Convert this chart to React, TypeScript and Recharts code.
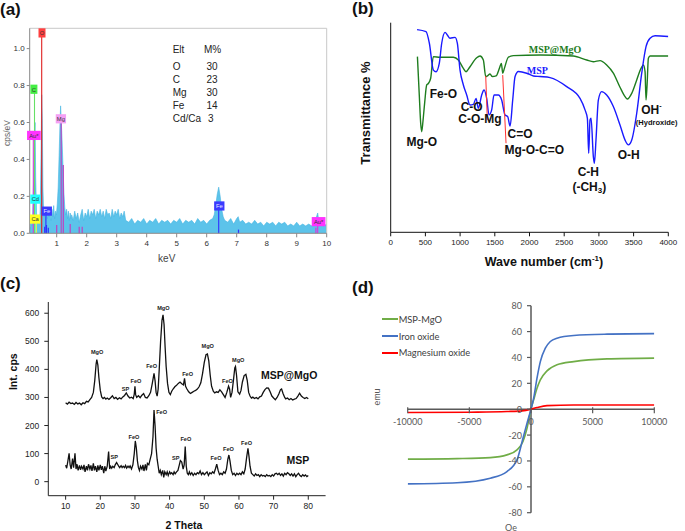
import React from 'react';
import {
  AreaChart, Area, ComposedChart, Line, XAxis, YAxis, ReferenceLine, ReferenceDot,
} from 'recharts';

const SANS = '"Liberation Sans", Arial, Helvetica, sans-serif';
const SERIF = '"Liberation Serif", "Times New Roman", serif';
const CAL = 'Lato, "Open Sans", sans-serif';

/* ---------------- (a) EDS spectrum ---------------- */
const edsSpectrum: [number, number][] = [
  [0.1,0.02],[0.14,0.06],[0.17,0.04],[0.2,0.1],[0.23,0.28],[0.26,0.55],[0.28,0.6],[0.3,0.3],[0.33,0.1],[0.36,0.07],[0.39,0.09],[0.42,0.06],[0.45,0.12],[0.48,0.45],[0.5,0.75],[0.52,0.62],[0.54,0.25],[0.57,0.09],[0.6,0.12],[0.63,0.07],[0.66,0.13],[0.69,0.08],[0.72,0.14],[0.75,0.09],[0.78,0.12],[0.81,0.07],[0.84,0.13],[0.87,0.09],[0.9,0.15],[0.93,0.08],[0.96,0.12],[0.99,0.1],[1.02,0.16],[1.05,0.25],[1.08,0.42],[1.11,0.6],[1.13,0.69],[1.15,0.62],[1.18,0.5],[1.21,0.36],[1.24,0.22],[1.27,0.14],[1.3,0.1],[1.33,0.13],[1.36,0.08],[1.39,0.12],[1.42,0.07],[1.45,0.11],[1.48,0.08],
  [1.5,0.1],[1.55,0.07],[1.6,0.12],[1.65,0.08],[1.7,0.11],[1.75,0.06],[1.8,0.1],[1.85,0.13],[1.9,0.07],[1.95,0.11],[2.0,0.09],[2.05,0.13],[2.1,0.08],[2.15,0.12],[2.2,0.1],[2.25,0.13],[2.3,0.08],[2.35,0.12],[2.4,0.1],[2.45,0.13],[2.5,0.09],[2.55,0.12],[2.6,0.08],[2.65,0.13],[2.7,0.1],[2.75,0.11],[2.8,0.08],[2.85,0.13],[2.9,0.09],[2.95,0.12],[3.0,0.1],[3.05,0.13],[3.1,0.08],[3.15,0.11],[3.2,0.09],[3.25,0.12],[3.3,0.07],
  [3.4,0.06],[3.5,0.08],[3.6,0.05],[3.7,0.07],[3.8,0.06],[3.9,0.08],[4.0,0.05],[4.1,0.07],[4.2,0.06],[4.3,0.08],[4.4,0.05],[4.5,0.07],[4.6,0.06],[4.7,0.07],[4.8,0.05],[4.9,0.07],[5.0,0.06],[5.1,0.08],[5.2,0.05],[5.3,0.07],[5.4,0.06],[5.5,0.07],[5.6,0.05],[5.7,0.08],[5.8,0.06],[5.9,0.07],[6.0,0.05],[6.1,0.07],[6.2,0.08],[6.25,0.1],[6.3,0.15],[6.35,0.21],[6.4,0.25],[6.45,0.2],[6.5,0.13],[6.55,0.09],[6.6,0.07],[6.7,0.06],[6.8,0.08],[6.9,0.05],[7.0,0.08],[7.05,0.09],[7.1,0.06],[7.2,0.07],[7.3,0.05],[7.4,0.06],[7.5,0.05],[7.6,0.07],[7.7,0.05],[7.8,0.06],[7.9,0.04],[8.0,0.06],[8.1,0.05],[8.2,0.06],[8.3,0.04],[8.4,0.06],[8.5,0.05],[8.6,0.06],[8.7,0.04],[8.8,0.05],[8.9,0.04],[9.0,0.06],[9.1,0.04],[9.2,0.05],[9.3,0.04],[9.4,0.05],[9.5,0.04],[9.6,0.06],[9.7,0.11],[9.75,0.05],[9.8,0.05],[9.9,0.04],[10.0,0.05],
];
const edsXTicks = [1, 2, 3, 4, 5, 6, 7, 8, 9, 10];
const edsXMinor = [0.2,0.4,0.6,0.8,1.2,1.4,1.6,1.8,2.2,2.4,2.6,2.8,3.2,3.4,3.6,3.8,4.2,4.4,4.6,4.8,5.2,5.4,5.6,5.8,6.2,6.4,6.6,6.8,7.2,7.4,7.6,7.8,8.2,8.4,8.6,8.8,9.2,9.4,9.6,9.8];
const edsYTicks = [0, 0.2, 0.4, 0.6, 0.8, 1.0];
const edsYMinor = [0.05,0.1,0.15,0.25,0.3,0.35,0.45,0.5,0.55,0.65,0.7,0.75,0.85,0.9,0.95,1.05];
const edsMarkers = [
  { el: 'Au*', x: 0.22, lx: 0.24, h: 0.53, line: '#dd33dd', box: '#ff33ff' },
  { el: 'C', x: 0.26, lx: 0.24, h: 0.78, line: '#66e066', box: '#44ee44' },
  { el: 'Cd', x: 0.3, lx: 0.29, h: 0.185, line: '#55eeee', box: '#22ffff' },
  { el: 'Ca', x: 0.32, lx: 0.28, h: 0.077, line: '#eeee44', box: '#ffff22' },
  { el: 'O', x: 0.5, lx: 0.51, h: 1.085, line: '#e02020', box: '#ff4040' },
  { el: 'Fe', x: 0.64, lx: 0.67, h: 0.12, line: '#3030ff', box: '#3a3aff' },
  { el: 'Mg', x: 1.15, lx: 1.14, h: 0.62, line: '#c040c0', box: '#f4a0f4' },
  { el: 'Fe', x: 6.4, lx: 6.42, h: 0.148, line: '#3030ff', box: '#3a3aff' },
  { el: 'Au*', x: 9.7, lx: 9.73, h: 0.063, line: '#dd33dd', box: '#ff33ff' },
];
const edsMinorLines: [number, number, string][] = [
  [0.6,0.035,'#3030ff'],[0.66,0.045,'#3030ff'],[0.72,0.03,'#3030ff'],[1.0,0.045,'#c040c0'],[1.22,0.37,'#c040c0'],[1.45,0.05,'#c040c0'],[1.75,0.035,'#c040c0'],[1.85,0.035,'#c040c0'],[7.06,0.02,'#3030ff'],[9.64,0.03,'#dd33dd'],
];
const eltNames = ['O', 'C', 'Mg', 'Fe', 'Cd/Ca'];
const eltPct = [30, 23, 30, 14, 3];

/* ---------------- (b) FTIR ---------------- */
const ftirMSP: [number, number][] = [
  [380,96.7],[509,95.7],[557,90.2],[615,77.4],[653,76.6],[700,80.6],[735,90.2],[783,95.4],[816,94.1],[855,92.6],[927,93],[960,90.2],[999,77.4],[1047,70.3],[1095,65.5],[1143,60.7],[1191,61],[1230,63.9],[1263,59.2],[1311,65.5],[1345,67.9],[1383,63.9],[1417,56],[1455,58.4],[1489,65.5],[1551,65.5],[1599,63.1],[1647,56],[1686,55.2],[1720,50.7],[1758,63.1],[1792,74.3],[1840,76.7],[1960,75.9],[2056,74.6],[2152,74.3],[2296,73.8],[2536,69.5],[2728,63.9],[2800,58.4],[2834,54.4],[2853,37.7],[2872,53.6],[2887,54.4],[2920,36.1],[2935,32.9],[2958,44],[2992,63.1],[3040,67.1],[3112,65.5],[3208,60],[3304,51.2],[3377,44],[3425,41.7],[3473,44],[3545,56.8],[3617,75.9],[3679,88.6],[3737,92.6],[3809,93.8],[4000,93.4],
];
const ftirMgO: [number, number][] = [
  [385,83.8],[413,64.7],[432,52],[447,48],[465,53],[490,62],[519,70.3],[542,71],[576,73.5],[614,83.8],[711,83.5],[783,83.5],[903,83.5],[975,82.2],[1047,78.2],[1085,76.6],[1143,79],[1239,83.3],[1287,84.1],[1335,82.2],[1369,74.3],[1393,74.6],[1431,75.5],[1465,74.3],[1518,74.6],[1566,78.2],[1595,80.6],[1614,75.9],[1638,78.2],[1695,83.5],[1767,84.3],[2152,84.6],[2632,84.1],[2824,82.2],[2920,81.4],[3016,81.9],[3112,79.8],[3208,75.9],[3304,69.2],[3377,64.7],[3410,63.6],[3473,66.3],[3545,72.7],[3607,78.2],[3641,79.8],[3665,76.7],[3679,63.1],[3693,69.5],[3713,83],[3737,84.1],[4000,84.1],
];
const ftirXTicks = [0, 500, 1000, 1500, 2000, 2500, 3000, 3500, 4000];
const ftirXMinor = [250, 750, 1250, 1750, 2250, 2750, 3250, 3750];
const ftirYTicks = [0, 10, 20, 30, 40, 50, 60, 70, 80, 90, 100];
const ftirYMinor = [5, 15, 25, 35, 45, 55, 65, 75, 85, 95];
const ftirRedLines: [number, number, number, number][] = [
  [1369, 74.6, 1393, 53.6],
  [1614, 75, 1662, 42.5],
];
const ftirLabels = [
  { t: 'Mg-O', x: 447, y: 43.2 },
  { t: 'Fe-O', x: 758, y: 65.8 },
  { t: 'C-O', x: 1167, y: 59.9 },
  { t: 'C-O-Mg', x: 1287, y: 53.9 },
  { t: 'C=O', x: 1863, y: 46.9 },
  { t: 'Mg-O-C=O', x: 2069, y: 39.3 },
  { t: 'C-H', x: 2848, y: 28.9 },
  { t: 'O-H', x: 3430, y: 36.9 },
];

/* ---------------- (c) XRD ---------------- */
const xrdMgO: [number, number][] = [
  [10,281],[10.5,276],[11,283],[11.5,278],[12,280],[12.5,275],[13,282],[13.5,277],[14,280],[14.5,274],[15,281],[15.5,278],[16,286],[16.5,284],[17,292],[17.5,300],[18,318],[18.4,360],[18.8,420],[19.0,435],[19.3,415],[19.6,370],[20.0,325],[20.4,302],[20.8,296],[21.2,300],[21.6,294],[22,298],[22.5,293],[23,299],[23.5,306],[24,296],[24.5,300],[25,293],[25.5,299],[26,295],[26.5,302],[27,307],[27.5,316],[28,305],[28.5,298],[29,301],[29.5,296],[29.8,312],[30.0,340],[30.2,310],[30.5,300],[31,306],[31.5,299],[32,308],[32.5,314],[33,300],[33.5,298],[34,306],[34.5,318],[35.0,350],[35.5,386],[35.8,360],[36.1,318],[36.4,305],[36.7,330],[37.0,400],[37.4,500],[37.8,575],[38.1,594],[38.4,560],[38.7,480],[39.0,410],[39.4,350],[39.8,318],[40.2,310],[40.6,322],[41,330],[41.5,338],[42,343],[42.5,350],[43,355],[43.5,349],[44,345],[44.3,368],[44.6,340],[45,330],[45.5,320],[46,314],[46.5,318],[47,322],[47.5,325],[48,330],[48.5,338],[49,352],[49.5,385],[50,425],[50.5,452],[50.9,455],[51.3,430],[51.7,380],[52.1,340],[52.6,322],[53,316],[53.5,320],[54,318],[54.5,327],[55,320],[55.5,310],[56,300],[56.5,318],[57.0,340],[57.3,330],[57.6,300],[58,318],[58.4,360],[58.8,405],[59.0,410],[59.3,380],[59.7,320],[60.2,312],[60.6,325],[61.0,355],[61.5,378],[62.0,382],[62.4,360],[62.8,318],[63.2,305],[63.6,298],[64,301],[64.5,296],[65,300],[65.5,295],[66,302],[66.5,305],[67,318],[67.5,328],[68,334],[68.5,333],[69,320],[69.5,305],[70,298],[70.5,292],[71,300],[71.5,312],[72,328],[72.3,330],[72.7,315],[73.2,300],[73.5,295],[74,298],[74.5,292],[75,296],[75.5,291],[76,294],[76.5,296],[77,305],[77.5,315],[78,305],[78.5,300],[79,296],[79.5,300],[80,295],
];
const xrdMSP: [number, number][] = [
  [10,59],[10.3,48],[10.6,70],[11.0,101],[11.3,60],[11.6,45],[12.0,82],[12.3,50],[12.7,101],[13.0,45],[13.3,62],[13.6,40],[14,58],[14.3,42],[14.6,55],[15,45],[15.3,60],[15.6,35],[16,55],[16.3,40],[16.6,62],[17,45],[17.3,58],[17.6,38],[18,65],[18.3,40],[18.6,55],[19,35],[19.3,58],[19.6,40],[20,60],[20.3,42],[20.6,55],[21,30],[21.3,55],[21.6,38],[22,55],[22.4,107],[22.7,45],[23,55],[23.3,48],[23.6,55],[24,50],[24.3,60],[24.7,68],[25,62],[25.3,55],[25.6,50],[26,57],[26.3,50],[26.6,55],[27,50],[27.3,58],[27.6,48],[28,55],[28.3,50],[28.6,56],[29,45],[29.4,60],[29.8,100],[30.1,145],[30.4,120],[30.7,75],[31,50],[31.3,40],[31.6,55],[32,45],[32.3,60],[32.6,38],[33,62],[33.3,40],[33.6,65],[34,60],[34.4,80],[34.8,100],[35.2,160],[35.5,255],[35.8,200],[36.1,120],[36.4,80],[36.7,55],[37,30],[37.3,40],[37.6,25],[38,40],[38.3,15],[38.6,35],[39,25],[39.3,35],[39.6,22],[40,35],[40.3,28],[40.6,32],[41,25],[41.3,35],[41.6,28],[42,35],[42.4,40],[42.8,60],[43.1,75],[43.5,70],[43.9,45],[44.2,60],[44.5,125],[44.8,55],[45.1,30],[45.4,25],[45.7,35],[46,25],[46.4,32],[46.8,22],[47.2,30],[47.6,25],[48,32],[48.4,28],[48.8,38],[49.2,25],[49.6,32],[50,25],[50.4,30],[50.8,35],[51.2,22],[51.6,32],[52,28],[52.4,35],[52.8,30],[53.2,45],[53.6,62],[54,40],[54.4,25],[54.8,30],[55.2,25],[55.6,35],[56,30],[56.4,45],[56.8,80],[57.1,95],[57.4,75],[57.8,40],[58.2,25],[58.6,30],[59,22],[59.4,30],[59.8,25],[60.2,30],[60.6,25],[61,35],[61.4,28],[61.8,45],[62.2,85],[62.6,119],[62.9,90],[63.2,55],[63.6,30],[64,25],[64.4,20],[64.8,28],[65.2,22],[65.6,25],[66,18],[66.4,25],[66.8,20],[67.2,22],[67.6,18],[68,25],[68.4,20],[68.8,22],[69.2,18],[69.6,25],[70,20],[70.4,28],[70.8,30],[71.2,25],[71.6,30],[72,22],[72.4,28],[72.8,20],[73.2,30],[73.6,25],[74,32],[74.4,28],[74.8,22],[75.2,28],[75.6,20],[76,28],[76.4,18],[76.8,25],[77.2,30],[77.6,22],[78,18],[78.4,25],[78.8,20],[79.2,24],[79.6,18],[80,22],
];
const xrdXTicks = [10, 20, 30, 40, 50, 60, 70, 80];
const xrdXMinor = [15, 25, 35, 45, 55, 65, 75, 85];
const xrdYTicks = [0, 100, 200, 300, 400, 500, 600];
const xrdPeakLabels = [
  { t: 'MgO', x: 19.1, y: 463 }, { t: 'SP', x: 27.3, y: 330 }, { t: 'FeO', x: 30.3, y: 359 },
  { t: 'FeO', x: 34.8, y: 413 }, { t: 'MgO', x: 38.2, y: 620 }, { t: 'FeO', x: 45.2, y: 384 },
  { t: 'MgO', x: 51.0, y: 482 }, { t: 'FeO', x: 56.7, y: 359 }, { t: 'MgO', x: 59.8, y: 434 },
  { t: 'FeO', x: 29.7, y: 160 }, { t: 'SP', x: 24.0, y: 89 }, { t: 'FeO', x: 37.7, y: 249 },
  { t: 'SP', x: 41.8, y: 86 }, { t: 'FeO', x: 44.7, y: 152 }, { t: 'FeO', x: 53.4, y: 86 },
  { t: 'FeO', x: 57.0, y: 118 }, { t: 'FeO', x: 62.2, y: 139 },
];
const xrdSeriesLabels = [
  { t: 'MSP@MgO', x: 74.5, y: 380 },
  { t: 'MSP', x: 77, y: 77 },
];

/* ---------------- (d) VSM ---------------- */
const vsmMspMgO: [number, number][] = [
  [-10000,-38.6],[-6000,-38.2],[-3300,-37.4],[-1950,-35.3],[-1135,-31.4],[-650,-25],[-324,-14.7],[0,0],[216,7.2],[487,16.2],[757,22.7],[1297,29.6],[2108,34.3],[3460,36.8],[6163,38.9],[10000,39.5],
];
const vsmIronOxide: [number, number][] = [
  [-10000,-57.7],[-6000,-56.8],[-3300,-53.3],[-1950,-48.2],[-1135,-39.2],[-650,-22.4],[-300,-10],[0,0],[216,8.5],[487,24],[757,36.8],[1162,47.2],[1568,52.3],[2108,54.9],[3460,57],[6163,58],[10000,58.4],
];
const vsmMgO: [number, number][] = [
  [-10000,-2.6],[-5000,-2.3],[-1946,-1.8],[-730,-1.3],[0,0],[487,1.3],[1297,2.8],[3460,3.3],[10000,3.3],
];
const vsmSeries = [
  { name: 'MSP-MgO', color: '#70ad47', data: vsmMspMgO },
  { name: 'Iron oxide', color: '#4472c4', data: vsmIronOxide },
  { name: 'Magnesium oxide', color: '#ff0000', data: vsmMgO },
];
const vsmXTicks = [-10000, -5000, 0, 5000, 10000];
const vsmYTicks = [-80, -60, -40, -20, 0, 20, 40, 60, 80];

const pts = (a: [number, number][]) => a.map(([x, y]) => ({ x, y }));

const textDot = (key: string, x: number, y: number, content: React.ReactNode, props: any) => (
  <ReferenceDot
    key={key}
    x={x}
    y={y}
    r={1}
    ifOverflow="visible"
    shape={(p: any) => (
      <text x={p.cx} y={p.cy} textAnchor="middle" dominantBaseline="central" {...props}>
        {content}
      </text>
    )}
  />
);

function PanelA() {
  const data = pts(edsSpectrum);
  const tickStyle = { fill: '#333', fontSize: 8, fontFamily: SANS };
  return (
    <div style={{ position: 'absolute', left: 0, top: 0 }}>
      <AreaChart width={340} height={265} data={data} margin={{ top: 28.3, right: 13.3, bottom: 11.69, left: 0 }}>
        <XAxis xAxisId="m" type="number" dataKey="x" domain={[0.1, 10]} allowDataOverflow ticks={edsXMinor} interval={0} tick={false} tickSize={2} tickLine={{ stroke: '#888' }} axisLine={false} height={0.01} />
        <XAxis type="number" dataKey="x" domain={[0.1, 10]} allowDataOverflow ticks={edsXTicks} interval={0} tickSize={4} tickMargin={3} height={20} stroke="#888" tick={tickStyle} />
        <YAxis yAxisId="m" type="number" domain={[0, 1.11]} allowDataOverflow ticks={edsYMinor} interval={0} tick={false} tickSize={2} tickLine={{ stroke: '#888' }} axisLine={false} width={0.01} />
        <YAxis type="number" domain={[0, 1.11]} allowDataOverflow ticks={edsYTicks} interval={0} tickFormatter={(v: number) => v.toFixed(1)} width={29.69} tickSize={3} tickMargin={2} stroke="#888" tick={tickStyle} />
        <ReferenceLine y={1.11} stroke="#c8c8c8" />
        <ReferenceLine x={10} stroke="#c8c8c8" />
        <Area type="linear" dataKey="y" stroke="#47b6e2" strokeWidth={0.6} fill="#5cc3ea" fillOpacity={1} isAnimationActive={false} />
        {edsMinorLines.map(([x, h, c], i) => (
          <ReferenceLine key={'ml' + i} segment={[{ x, y: 0 }, { x, y: h }]} stroke={c} strokeWidth={1.2} />
        ))}
        {edsMarkers.map((m, i) => (
          <ReferenceLine key={'mk' + i} segment={[{ x: m.x, y: 0 }, { x: m.x, y: m.h }]} stroke={m.line} strokeWidth={1.1} />
        ))}
        {edsMarkers.map((m, i) => (
          <ReferenceDot
            key={'mb' + i}
            x={m.lx}
            y={m.h}
            r={1}
            ifOverflow="visible"
            shape={(p: any) => {
              const w = Math.max(7, m.el.length * 3.4 + 3.5);
              return (
                <g>
                  <rect x={p.cx - w / 2} y={p.cy - 4.6} width={w} height={9.2} fill={m.box} />
                  <text x={p.cx} y={p.cy + 0.3} textAnchor="middle" dominantBaseline="central" fontSize={5.8} fontFamily={SANS} fill={m.box === '#3a3aff' ? '#e8e8ff' : '#333'}>
                    {m.el}
                  </text>
                </g>
              );
            }}
          />
        ))}
      </AreaChart>
    </div>
  );
}

function PanelB() {
  return (
    <div style={{ position: 'absolute', left: 340, top: 0 }}>
      <ComposedChart width={345} height={265} margin={{ top: 22.7, right: 16.7, bottom: 12.69, left: 0 }}>
        <XAxis xAxisId="m" type="number" dataKey="x" domain={[0, 4000]} allowDataOverflow ticks={ftirXMinor} interval={0} tick={false} tickSize={2.5} tickLine={{ stroke: '#111' }} axisLine={false} height={0.01} />
        <XAxis type="number" dataKey="x" domain={[0, 4000]} allowDataOverflow ticks={ftirXTicks} interval={0} tickSize={4} tickMargin={3} height={20} stroke="#111" tick={{ fill: '#222', fontSize: 8, fontFamily: SANS }} />
        <YAxis yAxisId="m" type="number" domain={[0, 100]} allowDataOverflow ticks={ftirYMinor} interval={0} tick={false} tickSize={2.5} tickLine={{ stroke: '#111' }} axisLine={false} width={0.01} />
        <YAxis type="number" domain={[0, 100]} allowDataOverflow ticks={ftirYTicks} interval={0} tick={false} tickSize={4.5} width={50.69} stroke="#111" />
        <Line data={pts(ftirMgO)} dataKey="y" type="monotone" stroke="#1e7d1e" strokeWidth={1.4} dot={false} isAnimationActive={false} />
        <Line data={pts(ftirMSP)} dataKey="y" type="monotone" stroke="#1a1aff" strokeWidth={1.4} dot={false} isAnimationActive={false} />
        {ftirRedLines.map(([x1, y1, x2, y2], i) => (
          <ReferenceLine key={'rl' + i} segment={[{ x: x1, y: y1 }, { x: x2, y: y2 }]} stroke="#ff3030" strokeWidth={1} />
        ))}
        {ftirLabels.map((l, i) => textDot('fl' + i, l.x, l.y, l.t, { fontSize: 12, fontWeight: 700, fontFamily: SANS, fill: '#111' }))}
        {textDot('ch3', 2862, 21.8, (<>(-CH<tspan fontSize={8} dy={3}>3</tspan><tspan dy={-3}>)</tspan></>), { fontSize: 12, fontWeight: 700, fontFamily: SANS, fill: '#111' })}
        {textDot('ohm', 3755, 58.3, (<>OH<tspan fontSize={7} dy={-5}>-</tspan></>), { fontSize: 12, fontWeight: 700, fontFamily: SANS, fill: '#111' })}
        {textDot('hyd', 3833, 52.6, '(Hydroxide)', { fontSize: 7.5, fontWeight: 700, fontFamily: SANS, fill: '#111' })}
        {textDot('smgo', 2368, 87.3, 'MSP@MgO', { fontSize: 10, fontWeight: 700, fontFamily: SERIF, fill: '#1e7d1e' })}
        {textDot('smsp', 2113, 77.4, 'MSP', { fontSize: 10, fontWeight: 700, fontFamily: SERIF, fill: '#1a1aff' })}
      </ComposedChart>
    </div>
  );
}

function PanelC() {
  return (
    <div style={{ position: 'absolute', left: 0, top: 265 }}>
      <ComposedChart width={340} height={266} margin={{ top: 37, right: 14.4, bottom: 15.29, left: 0 }}>
        <XAxis xAxisId="m" type="number" dataKey="x" domain={[5, 85]} allowDataOverflow ticks={xrdXMinor} interval={0} tick={false} tickSize={2.5} tickLine={{ stroke: '#222' }} axisLine={false} height={0.01} />
        <XAxis type="number" dataKey="x" domain={[5, 85]} allowDataOverflow ticks={xrdXTicks} interval={0} tickSize={4} tickMargin={3} height={20} stroke="#222" tick={{ fill: '#222', fontSize: 8.5, fontFamily: SANS }} />
        <YAxis type="number" domain={[-50, 640]} allowDataOverflow ticks={xrdYTicks} interval={0} tickSize={4} tickMargin={5} width={48.3} stroke="#222" tick={{ fill: '#222', fontSize: 8.5, fontFamily: SANS }} />
        <Line data={pts(xrdMgO)} dataKey="y" type="linear" stroke="#111" strokeWidth={1.3} dot={false} isAnimationActive={false} />
        <Line data={pts(xrdMSP)} dataKey="y" type="linear" stroke="#111" strokeWidth={1.3} dot={false} isAnimationActive={false} />
        {xrdPeakLabels.map((l, i) => textDot('xl' + i, l.x, l.y, l.t, { fontSize: 5.6, fontWeight: 700, fontFamily: SANS, fill: '#222' }))}
        {xrdSeriesLabels.map((l, i) => textDot('xs' + i, l.x, l.y, l.t, { fontSize: 10.5, fontWeight: 700, fontFamily: SANS, fill: '#111' }))}
      </ComposedChart>
    </div>
  );
}

function PanelD() {
  const axisColor = '#595959';
  return (
    <div style={{ position: 'absolute', left: 340, top: 265 }}>
      <ComposedChart width={345} height={266} margin={{ top: 40.7, right: 30.7, bottom: 18.3, left: 67.7 }}>
        <XAxis type="number" dataKey="x" domain={[-10000, 10000]} allowDataOverflow hide />
        <YAxis type="number" domain={[-80, 80]} allowDataOverflow hide />
        <ReferenceLine x={0} stroke={axisColor} strokeWidth={1.5} />
        <ReferenceLine y={0} stroke={axisColor} strokeWidth={1.5} />
        {vsmSeries.map((s) => (
          <Line key={s.name} name={s.name} data={pts(s.data)} dataKey="y" type="monotone" stroke={s.color} strokeWidth={1.6} dot={false} isAnimationActive={false} />
        ))}
        {vsmXTicks.map((v) => (
          <ReferenceDot key={'vx' + v} x={v} y={0} r={1} ifOverflow="visible" shape={(p: any) => (
            <g>
              <line x1={p.cx} x2={p.cx} y1={p.cy - 2} y2={p.cy + 4} stroke={axisColor} strokeWidth={1.2} />
              <text x={p.cx} y={p.cy + 12.5} textAnchor="middle" dominantBaseline="central" fontSize={9} fontFamily={CAL} fill={axisColor}>{v}</text>
            </g>
          )} />
        ))}
        {vsmYTicks.map((v) => (
          <ReferenceDot key={'vy' + v} x={0} y={v} r={1} ifOverflow="visible" shape={(p: any) => (
            <g>
              <line x1={p.cx - 4} x2={p.cx} y1={p.cy} y2={p.cy} stroke={axisColor} strokeWidth={1.2} />
              <text x={p.cx - 9} y={p.cy} textAnchor="end" dominantBaseline="central" fontSize={9} fontFamily={CAL} fill={axisColor}>{v}</text>
            </g>
          )} />
        ))}
      </ComposedChart>
      <div style={{ position: 'absolute', left: 41.7, top: 46, fontFamily: CAL, fontSize: 9.3, color: '#404040' }}>
        {vsmSeries.map((s) => (
          <div key={s.name} style={{ display: 'flex', alignItems: 'center', height: 16.8 }}>
            <div style={{ width: 16, height: 2, background: s.color, marginRight: 1 }} />
            <span>{s.name}</span>
          </div>
        ))}
      </div>
    </div>
  );
}

function Overlay() {
  const bold = { fontFamily: SANS, fontWeight: 700, fill: '#111' };
  return (
    <svg width={685} height={531} style={{ position: 'absolute', left: 0, top: 0, pointerEvents: 'none' }}>
      <text x={0} y={9} dominantBaseline="central" fontSize={17} {...bold}>(a)</text>
      <text x={352} y={8} dominantBaseline="central" fontSize={17} {...bold}>(b)</text>
      <text x={0} y={283} dominantBaseline="central" fontSize={17} {...bold}>(c)</text>
      <text x={352} y={287.5} dominantBaseline="central" fontSize={17} {...bold}>(d)</text>

      <text transform="translate(6.5,133) rotate(-90)" textAnchor="middle" dominantBaseline="central" fontSize={8.5} fontFamily={SANS} fill="#666">cps/eV</text>
      <text x={166.7} y={258} textAnchor="middle" dominantBaseline="central" fontSize={10} fontFamily={SANS} fill="#444">keV</text>
      <text x={172.7} y={49.3} dominantBaseline="central" fontSize={10} fontFamily={SANS} fill="#222">Elt</text>
      <text x={204} y={49.3} dominantBaseline="central" fontSize={10} fontFamily={SANS} fill="#222">M%</text>
      {eltNames.map((n, i) => (
        <g key={n}>
          <text x={172.7} y={66 + i * 13} dominantBaseline="central" fontSize={10} fontFamily={SANS} fill="#222">{n}</text>
          <text x={i === eltNames.length - 1 ? 208 : 206.5} y={66 + i * 13} dominantBaseline="central" fontSize={10} fontFamily={SANS} fill="#222">{eltPct[i]}</text>
        </g>
      ))}

      <text transform="translate(365,113) rotate(-90)" textAnchor="middle" dominantBaseline="central" fontSize={13} {...bold}>Transmittance %</text>
      <text x={544} y={262} textAnchor="middle" dominantBaseline="central" fontSize={12.5} {...bold}>Wave number (cm<tspan fontSize={8} dy={-4}>-1</tspan><tspan dy={4}>)</tspan></text>

      <text transform="translate(13,371.7) rotate(-90)" textAnchor="middle" dominantBaseline="central" fontSize={10.5} {...bold}>Int. cps</text>
      <text x={184} y={525} textAnchor="middle" dominantBaseline="central" fontSize={10.5} {...bold}>2 Theta</text>

      <text x={511} y={527} textAnchor="middle" dominantBaseline="central" fontSize={9} fontFamily={CAL} fill="#595959">Oe</text>
      <text transform="translate(376.7,397) rotate(-90)" textAnchor="middle" dominantBaseline="central" fontSize={9} fontFamily={CAL} fill="#595959">emu</text>
    </svg>
  );
}

export default function App() {
  return (
    <div style={{ position: 'absolute', left: 0, top: 0, width: 685, height: 531, background: '#fff', overflow: 'hidden' }}>
      <PanelA />
      <PanelB />
      <PanelC />
      <PanelD />
      <Overlay />
    </div>
  );
}
